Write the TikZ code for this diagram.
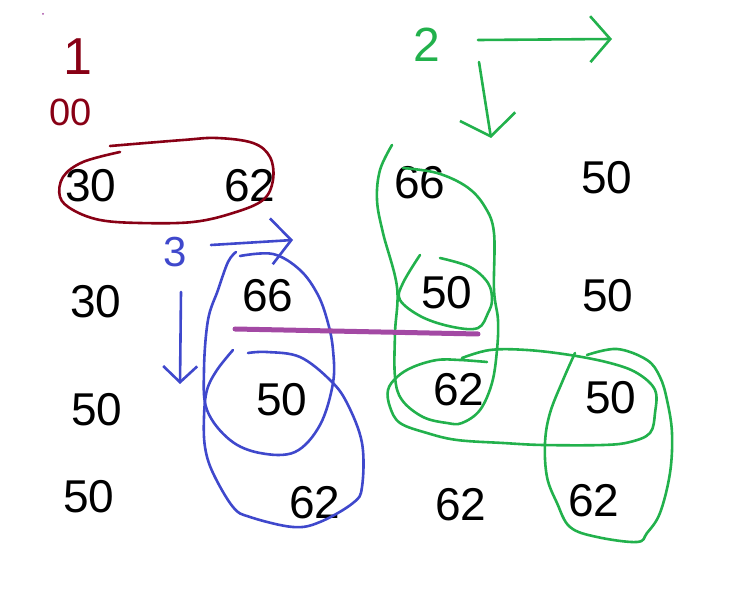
\documentclass[tikz,border=0pt]{standalone}
\usepackage{fontspec}
\setmainfont{Liberation Sans}
\usetikzlibrary{arrows.meta}

\definecolor{mred}{RGB}{136,0,21}
\definecolor{mgreen}{RGB}{34,177,76}
\definecolor{mblue}{RGB}{63,72,204}
\definecolor{mpurple}{RGB}{163,73,164}

\begin{document}
\begin{tikzpicture}[x=1pt,y=-1pt, every node/.style={inner sep=0pt},
  num/.style={font=\fontsize{46}{50}\selectfont},
  loop/.style={line width=2.6pt,line cap=round,line join=round},
  harrow/.style={line width=2.6pt,line cap=round,line join=round,
    -{Straight Barb[length=20pt,width=46pt,line width=2.6pt]}}]

  \useasboundingbox (0,0) rectangle (740,604);

  % Cells
  \foreach \x/\y/\v/\nm in {91/186/30/n11, 250/186/62/n12, 420/183/66/n13, 607/178/50/n14,
      96/302/30/n21, 268/296/66/n22, 447/293/50/n23, 608/296/50/n24,
      97/410/50/n31, 282/400/50/n32, 459/390/62/n33, 611/398/50/n34,
      89/497/50/n41, 315/503/62/n42, 461/505/62/n43, 594/501/62/n44}{
    \node[num] (\nm) at (\x,\y) {\v};
  }

  % Step labels
  \node[font=\fontsize{52}{56}\selectfont,text=mred] (one) at (78,57) {1};
  \node[font=\fontsize{38}{42}\selectfont,text=mred] (zz) at (71,112) {00};
  \node[font=\fontsize{48}{52}\selectfont,text=mgreen] (two) at (427,45) {2};
  \node[font=\fontsize{42}{46}\selectfont,text=mblue] (three) at (175,252) {3};

  % Arrows
  \coordinate (gr0) at (478,40);  \coordinate (gr1) at (612,39);
  \coordinate (gd0) at (479,62);  \coordinate (gd1) at (491,138);
  \coordinate (br0) at (211,245); \coordinate (br1) at (293,240);
  \coordinate (bd0) at (181,292); \coordinate (bd1) at (180,384);
  \draw[harrow,mgreen] (gr0) -- (gr1);
  \draw[harrow,mgreen,-{Straight Barb[length=20pt,width=56pt,line width=2.6pt]}] (gd0) -- (gd1);
  \draw[harrow,mblue] (br0) -- (br1);
  \draw[harrow,mblue,-{Straight Barb[length=16pt,width=34pt,line width=2.6pt]}] (bd0) -- (bd1);

  % Red group
  \draw[loop,mred] plot[smooth,tension=.6] coordinates {(120,152) (83,162) (63,177) (60,197)
    (73,210) (100,220) (140,223) (193,222) (233,213) (263,200) (273,180) (270,157)
    (253,143) (217,138) (183,140) (110,146)};

  % Blue groups
  \draw[loop,mblue] plot[smooth,tension=.6] coordinates {(240,256) (273,254) (300,270)
    (318,295) (328,323) (333,350) (333,383) (320,425) (295,452) (260,453) (230,440)
    (207,410) (204,370) (208,320) (218,290) (228,262) (236,252)};
  \draw[loop,mblue] plot[smooth,tension=.6] coordinates {(233,350) (217,370) (207,390)
    (204,417) (205,447) (213,473) (233,507) (250,517) (293,527) (320,522) (353,503)
    (362,487) (362,443) (347,403) (330,380) (300,357) (267,352) (248,353)};

  % Green groups
  \draw[loop,mgreen] plot[smooth,tension=.6] coordinates {(392,145) (380,170) (377,200)
    (383,233) (397,287) (395,333) (395,377) (402,400) (423,417) (447,423) (462,423)
    (480,410) (492,383) (497,350) (498,320) (494,290) (494,233) (485,207) (467,187)
    (437,173) (403,168)};
  \draw[loop,mgreen] plot[smooth,tension=.6] coordinates {(420,255) (403,283) (400,300)
    (422,317) (453,327) (478,328) (488,313) (492,300) (488,283) (470,267) (440,258)};
  \draw[loop,mgreen] plot[smooth,tension=.6] coordinates {(487,362) (460,360) (437,360)
    (413,367) (397,377) (388,390) (390,407) (400,423) (427,433) (457,440) (503,443)
    (543,445) (603,445) (630,442) (650,433) (655,413) (655,390) (637,373) (610,363)
    (570,355) (527,350) (490,350) (462,358)};
  \draw[loop,mgreen] plot[smooth,tension=.6] coordinates {(575,353) (563,380) (550,413)
    (545,443) (547,477) (557,503) (570,527) (597,537) (637,542) (647,533) (660,513)
    (670,473) (672,433) (667,400) (660,377) (647,360) (617,349) (587,355)};

  % Purple stroke
  \coordinate (p0) at (235,329); \coordinate (p1) at (478,334);
  \draw[mpurple,line width=5pt,line cap=round] (p0) -- (p1);
  \fill[mpurple] (43,14) circle (1pt);
\end{tikzpicture}
\end{document}
